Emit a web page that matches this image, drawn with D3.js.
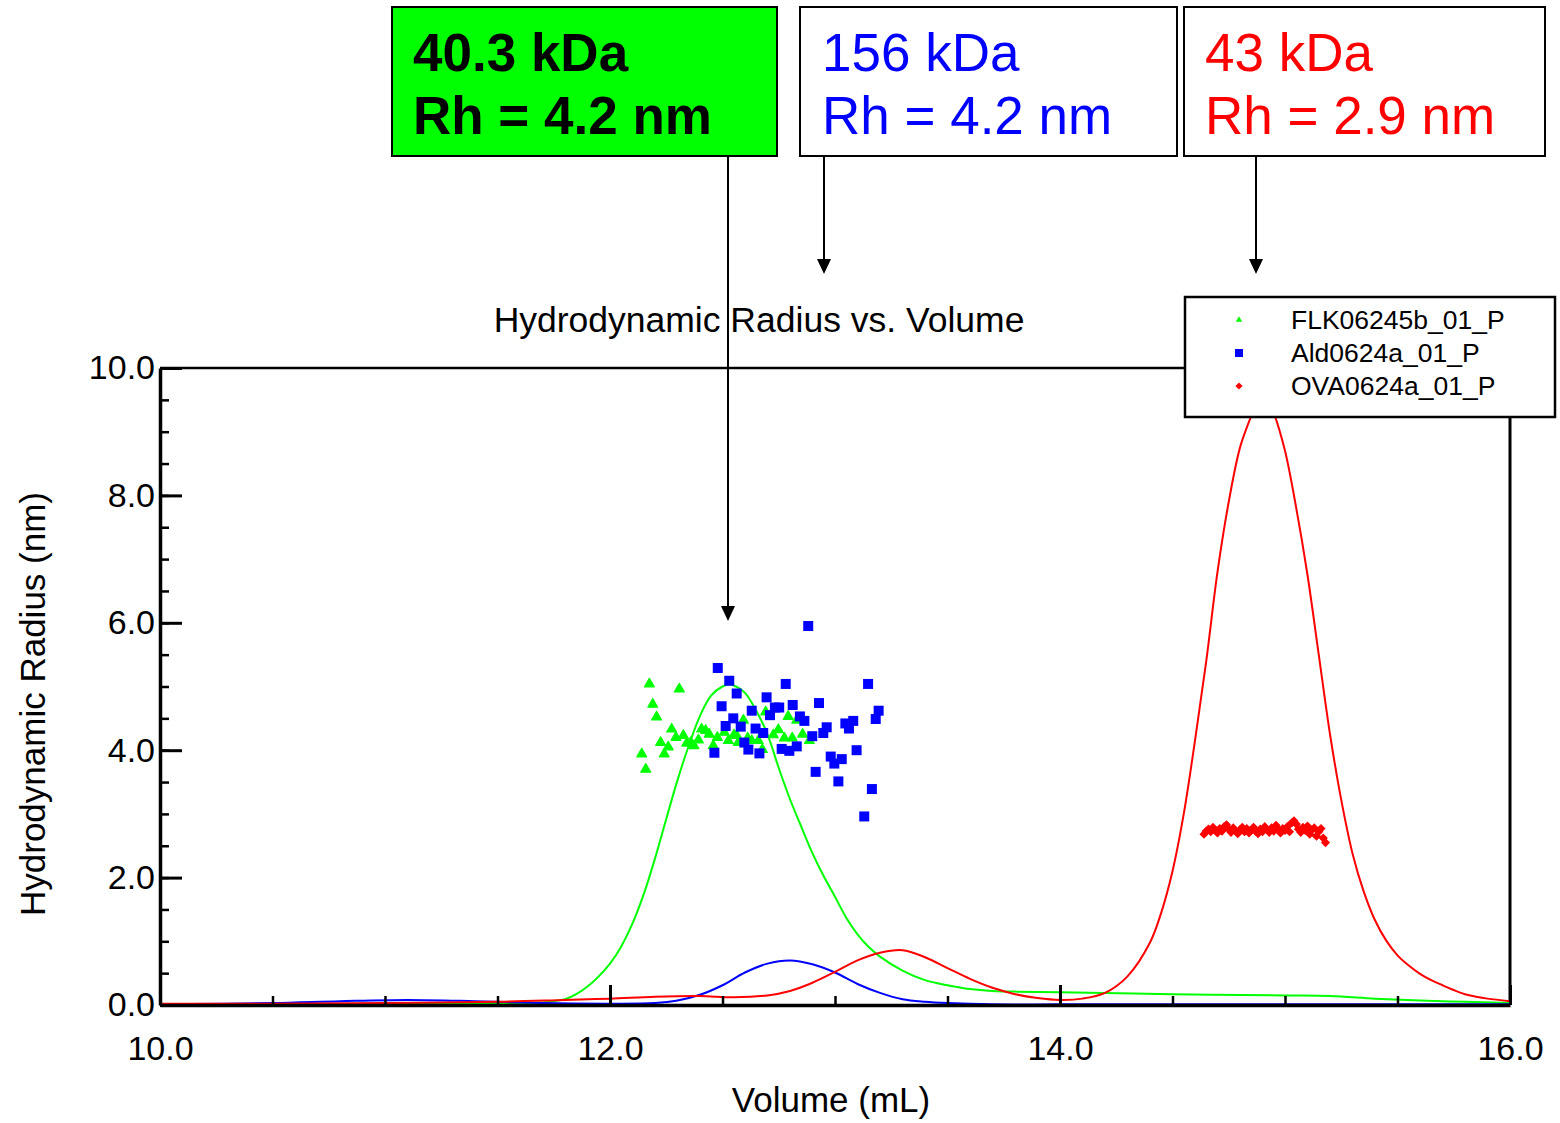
<!DOCTYPE html>
<html lang="en">
<head>
<meta charset="UTF-8">
<title>Hydrodynamic Radius vs. Volume</title>
<script src="https://d3js.org/d3.v7.min.js"></script>
<style>
  body { margin: 0; background: #fff; }
  svg { display: block; font-family: "Liberation Sans", Arial, sans-serif; }
</style>
</head>
<body>
<svg id="chart" width="1560" height="1123"></svg>
<script>
// Legend names and colours
const seriesNames = ["FLK06245b_01_P", "Ald0624a_01_P", "OVA0624a_01_P"];
const seriesColors = ["#00ff00", "#0000ff", "#ff0000"];

// Axis ticks
const xTicks = [10, 12, 14, 16];
const yTicks = [0, 2, 4, 6, 8, 10];

// Concentration traces, [volume (mL), scaled signal]
const flkTrace = [
  [10.0, 0.01], [10.5, 0.01], [11.0, 0.01], [11.4, 0.02], [11.6, 0.03], [11.7, 0.04],
  [11.75, 0.06], [11.8, 0.09], [11.85, 0.17], [11.9, 0.29], [11.95, 0.45], [12.0, 0.65],
  [12.05, 0.92], [12.1, 1.28], [12.15, 1.74], [12.2, 2.30], [12.25, 2.92], [12.3, 3.53],
  [12.35, 4.07], [12.4, 4.54], [12.45, 4.86], [12.5, 5.00], [12.53, 5.03], [12.56, 5.00],
  [12.6, 4.90], [12.65, 4.62], [12.7, 4.25], [12.75, 3.72], [12.8, 3.23], [12.85, 2.80],
  [12.9, 2.38], [12.95, 2.02], [13.0, 1.70], [13.05, 1.37], [13.1, 1.11], [13.15, 0.91],
  [13.2, 0.76], [13.3, 0.54], [13.4, 0.39], [13.5, 0.31], [13.6, 0.25], [13.7, 0.22],
  [13.8, 0.21], [14.0, 0.20], [14.5, 0.17], [15.0, 0.15], [15.2, 0.14], [15.4, 0.10],
  [15.6, 0.07], [15.8, 0.05], [16.0, 0.03]
];
const aldTrace = [
  [10.0, 0.01], [10.5, 0.03], [10.8, 0.06], [11.1, 0.08], [11.4, 0.06], [11.7, 0.03],
  [12.0, 0.02], [12.2, 0.03], [12.3, 0.07], [12.4, 0.16], [12.5, 0.31], [12.6, 0.51],
  [12.7, 0.65], [12.8, 0.70], [12.9, 0.64], [13.0, 0.51], [13.1, 0.33], [13.2, 0.19],
  [13.3, 0.09], [13.4, 0.05], [13.5, 0.03], [13.7, 0.01], [14.0, 0.01], [15.0, 0.01],
  [16.0, 0.01]
];
const ovaTrace = [
  [10.0, 0.02], [10.5, 0.02], [11.0, 0.03], [11.5, 0.05], [11.8, 0.08], [12.0, 0.10],
  [12.2, 0.13], [12.4, 0.14], [12.55, 0.12], [12.7, 0.15], [12.8, 0.22], [12.9, 0.35],
  [13.0, 0.52], [13.1, 0.70], [13.2, 0.82], [13.3, 0.86], [13.4, 0.75], [13.5, 0.58],
  [13.6, 0.41], [13.7, 0.27], [13.8, 0.17], [13.9, 0.11], [14.0, 0.08], [14.1, 0.10],
  [14.2, 0.19], [14.3, 0.45], [14.4, 0.98], [14.45, 1.45], [14.5, 2.10], [14.55, 3.00],
  [14.6, 4.15], [14.65, 5.40], [14.7, 6.80], [14.75, 7.90], [14.8, 8.75], [14.85, 9.25],
  [14.9, 9.72], [14.95, 9.30], [15.0, 8.70], [15.05, 7.80], [15.1, 6.75], [15.15, 5.50],
  [15.2, 4.25], [15.25, 3.22], [15.3, 2.38], [15.35, 1.78], [15.4, 1.33], [15.45, 1.01],
  [15.5, 0.78], [15.55, 0.62], [15.6, 0.49], [15.65, 0.39], [15.7, 0.31], [15.75, 0.235],
  [15.8, 0.17], [15.85, 0.13], [15.9, 0.10], [16.0, 0.06]
];

// Hydrodynamic radius points, [volume (mL), Rh (nm)]
const flkPoints = [
  [12.175, 5.04], [12.308, 4.96], [12.19, 4.72], [12.207, 4.52], [12.274, 4.33], [12.141, 3.94],
  [12.159, 3.70], [12.241, 3.94], [12.225, 4.12], [12.259, 4.05], [12.293, 4.20], [12.326, 4.23],
  [12.341, 4.11], [12.359, 4.12], [12.373, 4.07], [12.393, 4.16], [12.407, 4.33], [12.425, 4.31],
  [12.441, 4.25], [12.459, 4.07], [12.477, 4.20], [12.508, 4.28], [12.526, 4.15], [12.551, 4.24],
  [12.563, 4.23], [12.57, 4.12], [12.593, 4.47], [12.612, 4.19], [12.63, 4.15], [12.659, 4.15],
  [12.677, 4.01], [12.692, 4.60], [12.726, 4.24], [12.748, 4.32], [12.775, 4.19], [12.792, 4.53],
  [12.81, 4.19], [12.83, 4.47], [12.856, 4.25], [12.886, 4.15]
];
const aldPoints = [
  [12.881, 5.95], [12.479, 5.29], [12.53, 5.09], [12.563, 4.89], [12.496, 4.69], [12.781, 5.04],
  [13.147, 5.04], [12.696, 4.83], [12.733, 4.67], [12.752, 4.67], [12.812, 4.71], [12.929, 4.74],
  [12.63, 4.62], [12.711, 4.55], [12.548, 4.50], [12.844, 4.53], [12.864, 4.46], [13.194, 4.62],
  [13.181, 4.49], [13.081, 4.46], [13.046, 4.42], [13.062, 4.34], [12.514, 4.38], [12.581, 4.37],
  [12.647, 4.34], [12.681, 4.27], [12.963, 4.36], [12.948, 4.27], [12.899, 4.22], [12.597, 4.12],
  [12.615, 4.01], [12.664, 3.95], [12.464, 3.96], [12.763, 4.02], [12.797, 3.99], [12.83, 4.06],
  [13.096, 4.00], [12.981, 3.90], [13.03, 3.86], [12.997, 3.79], [12.914, 3.66], [13.015, 3.51],
  [13.164, 3.39], [13.13, 2.96]
];
const ovaPoints = [
  [14.64, 2.68], [14.65, 2.73], [14.66, 2.76], [14.67, 2.72], [14.68, 2.79], [14.69, 2.74],
  [14.70, 2.70], [14.71, 2.77], [14.72, 2.73], [14.73, 2.80], [14.74, 2.83], [14.75, 2.76],
  [14.76, 2.71], [14.77, 2.78], [14.78, 2.74], [14.79, 2.69], [14.80, 2.75], [14.81, 2.79],
  [14.82, 2.72], [14.83, 2.77], [14.84, 2.70], [14.85, 2.74], [14.86, 2.79], [14.87, 2.73],
  [14.88, 2.69], [14.89, 2.76], [14.90, 2.72], [14.91, 2.80], [14.92, 2.75], [14.93, 2.71],
  [14.94, 2.78], [14.95, 2.73], [14.96, 2.82], [14.97, 2.76], [14.98, 2.70], [14.99, 2.77],
  [15.00, 2.74], [15.01, 2.80], [15.02, 2.72], [15.03, 2.86], [15.04, 2.89], [15.05, 2.84],
  [15.06, 2.76], [15.07, 2.71], [15.08, 2.79], [15.09, 2.74], [15.10, 2.81], [15.11, 2.68],
  [15.12, 2.75], [15.13, 2.78], [15.14, 2.65], [15.15, 2.72], [15.16, 2.77], [15.17, 2.62],
  [15.18, 2.55]
];

// Annotation box texts
const annotations = [
  { mass: "40.3 kDa", rh: "Rh = 4.2 nm" },
  { mass: "156 kDa",  rh: "Rh = 4.2 nm" },
  { mass: "43 kDa",   rh: "Rh = 2.9 nm" }
];

const svg = d3.select("#chart");
const margin = { top: 368, right: 50, bottom: 118, left: 160 };
const W = 1560, H = 1123;

const x = d3.scaleLinear().domain([10, 16]).range([margin.left, W - margin.right]);
const y = d3.scaleLinear().domain([0, 10]).range([H - margin.bottom, margin.top]);

// frame top & right
svg.append("line")
  .attr("x1", x(10)).attr("x2", x(16)).attr("y1", y(10)).attr("y2", y(10))
  .attr("stroke", "#000").attr("stroke-width", 2.5);
svg.append("line")
  .attr("x1", x(16)).attr("x2", x(16)).attr("y1", y(10)).attr("y2", y(0))
  .attr("stroke", "#000").attr("stroke-width", 3);

// traces
const line = d3.line()
  .x(d => x(d[0]))
  .y(d => y(d[1]))
  .curve(d3.curveCatmullRom.alpha(0.5));

[flkTrace, aldTrace, ovaTrace].forEach((tr, i) => {
  svg.append("path")
    .datum(tr)
    .attr("fill", "none")
    .attr("stroke", seriesColors[i])
    .attr("stroke-width", 2)
    .attr("d", line);
});

// minor ticks
svg.append("g")
  .attr("transform", `translate(0,${y(0)})`)
  .call(d3.axisBottom(x).ticks(12).tickSize(-9).tickSizeOuter(0).tickFormat(""))
  .call(g => g.select(".domain").remove())
  .call(g => g.selectAll("line").attr("stroke-width", 2.5));
svg.append("g")
  .attr("transform", `translate(${x(10)},0)`)
  .call(d3.axisLeft(y).ticks(20).tickSize(-9).tickSizeOuter(0).tickFormat(""))
  .call(g => g.select(".domain").remove())
  .call(g => g.selectAll("line").attr("stroke-width", 2.5));

// major axes
svg.append("g")
  .attr("transform", `translate(0,${y(0)})`)
  .call(d3.axisBottom(x).tickValues(xTicks).tickSize(-20).tickSizeOuter(0)
    .tickPadding(31).tickFormat(d3.format(".1f")))
  .call(g => g.select(".domain").attr("stroke-width", 3.5))
  .call(g => g.selectAll("line").attr("stroke-width", 3))
  .call(g => g.selectAll("text").attr("font-size", 34).attr("font-family", "Liberation Sans, Arial, sans-serif").attr("fill", "#000"));
svg.append("g")
  .attr("transform", `translate(${x(10)},0)`)
  .call(d3.axisLeft(y).tickValues(yTicks).tickSize(-22).tickSizeOuter(0)
    .tickPadding(5).tickFormat(d3.format(".1f")))
  .call(g => g.select(".domain").attr("stroke-width", 3.5))
  .call(g => g.selectAll("line").attr("stroke-width", 3))
  .call(g => g.selectAll("text").attr("font-size", 34).attr("font-family", "Liberation Sans, Arial, sans-serif").attr("fill", "#000"));

// markers
const tri = d3.symbol(d3.symbolTriangle, 42);
const sq = d3.symbol(d3.symbolSquare, 100);
const dia = d3.symbol(d3.symbolSquare, 42);

svg.append("g").selectAll("path")
  .data(flkPoints).join("path")
  .attr("d", tri)
  .attr("transform", d => `translate(${x(d[0])},${y(d[1])})`)
  .attr("fill", seriesColors[0])
  .attr("stroke", seriesColors[0]).attr("stroke-width", 1.2).attr("stroke-linejoin", "round");

svg.append("g").selectAll("path")
  .data(aldPoints).join("path")
  .attr("d", sq)
  .attr("transform", d => `translate(${x(d[0])},${y(d[1])})`)
  .attr("fill", seriesColors[1]);

svg.append("g").selectAll("path")
  .data(ovaPoints).join("path")
  .attr("d", dia)
  .attr("transform", d => `translate(${x(d[0])},${y(d[1])}) rotate(45)`)
  .attr("fill", seriesColors[2]);

// title and axis titles
svg.append("text")
  .attr("x", 759).attr("y", 332)
  .attr("text-anchor", "middle").attr("font-size", 35.5)
  .text("Hydrodynamic Radius vs. Volume");
svg.append("text")
  .attr("x", 831).attr("y", 1112)
  .attr("text-anchor", "middle").attr("font-size", 35)
  .text("Volume (mL)");
svg.append("text")
  .attr("transform", "translate(45,704) rotate(-90)")
  .attr("text-anchor", "middle").attr("font-size", 35)
  .text("Hydrodynamic Radius (nm)");

// legend
const legend = svg.append("g");
legend.append("rect")
  .attr("x", 1185).attr("y", 297).attr("width", 370).attr("height", 120)
  .attr("fill", "#fff").attr("stroke", "#000").attr("stroke-width", 2.5);
const legendSymbols = [d3.symbol(d3.symbolTriangle, 18), d3.symbol(d3.symbolSquare, 64), d3.symbol(d3.symbolSquare, 26)];
seriesNames.forEach((name, i) => {
  const cy = 320 + i * 33;
  legend.append("path")
    .attr("d", legendSymbols[i])
    .attr("transform", `translate(1239,${cy})` + (i === 2 ? " rotate(45)" : ""))
    .attr("fill", seriesColors[i]);
  legend.append("text")
    .attr("x", 1291).attr("y", cy + 9)
    .attr("font-size", 26.5)
    .text(name);
});

// annotation boxes with arrows
const boxes = [
  { x0: 392, x1: 777, fill: "#00ff00", color: "#000", weight: "bold", size: 53, tx: 413, ax: 728, tip: 621 },
  { x0: 800, x1: 1177, fill: "#fff", color: "#0000ff", weight: "normal", size: 53, tx: 822, ax: 824, tip: 274 },
  { x0: 1184, x1: 1545, fill: "#fff", color: "#ff0000", weight: "normal", size: 53, tx: 1205, ax: 1256, tip: 274 }
];
annotations.forEach((a, i) => {
  const b = boxes[i];
  const g = svg.append("g");
  g.append("rect")
    .attr("x", b.x0).attr("y", 7).attr("width", b.x1 - b.x0).attr("height", 149)
    .attr("fill", b.fill).attr("stroke", "#000").attr("stroke-width", 2);
  g.append("text")
    .attr("x", b.tx).attr("y", 71)
    .attr("font-size", b.size).attr("font-weight", b.weight).attr("fill", b.color)
    .text(a.mass);
  g.append("text")
    .attr("x", b.tx).attr("y", 134)
    .attr("font-size", b.size).attr("font-weight", b.weight).attr("fill", b.color)
    .text(a.rh);
  g.append("line")
    .attr("x1", b.ax).attr("x2", b.ax).attr("y1", 156).attr("y2", b.tip - 12)
    .attr("stroke", "#000").attr("stroke-width", 2);
  g.append("path")
    .attr("d", `M${b.ax - 7},${b.tip - 15} L${b.ax + 7},${b.tip - 15} L${b.ax},${b.tip} Z`)
    .attr("fill", "#000");
});
</script>
</body>
</html>
